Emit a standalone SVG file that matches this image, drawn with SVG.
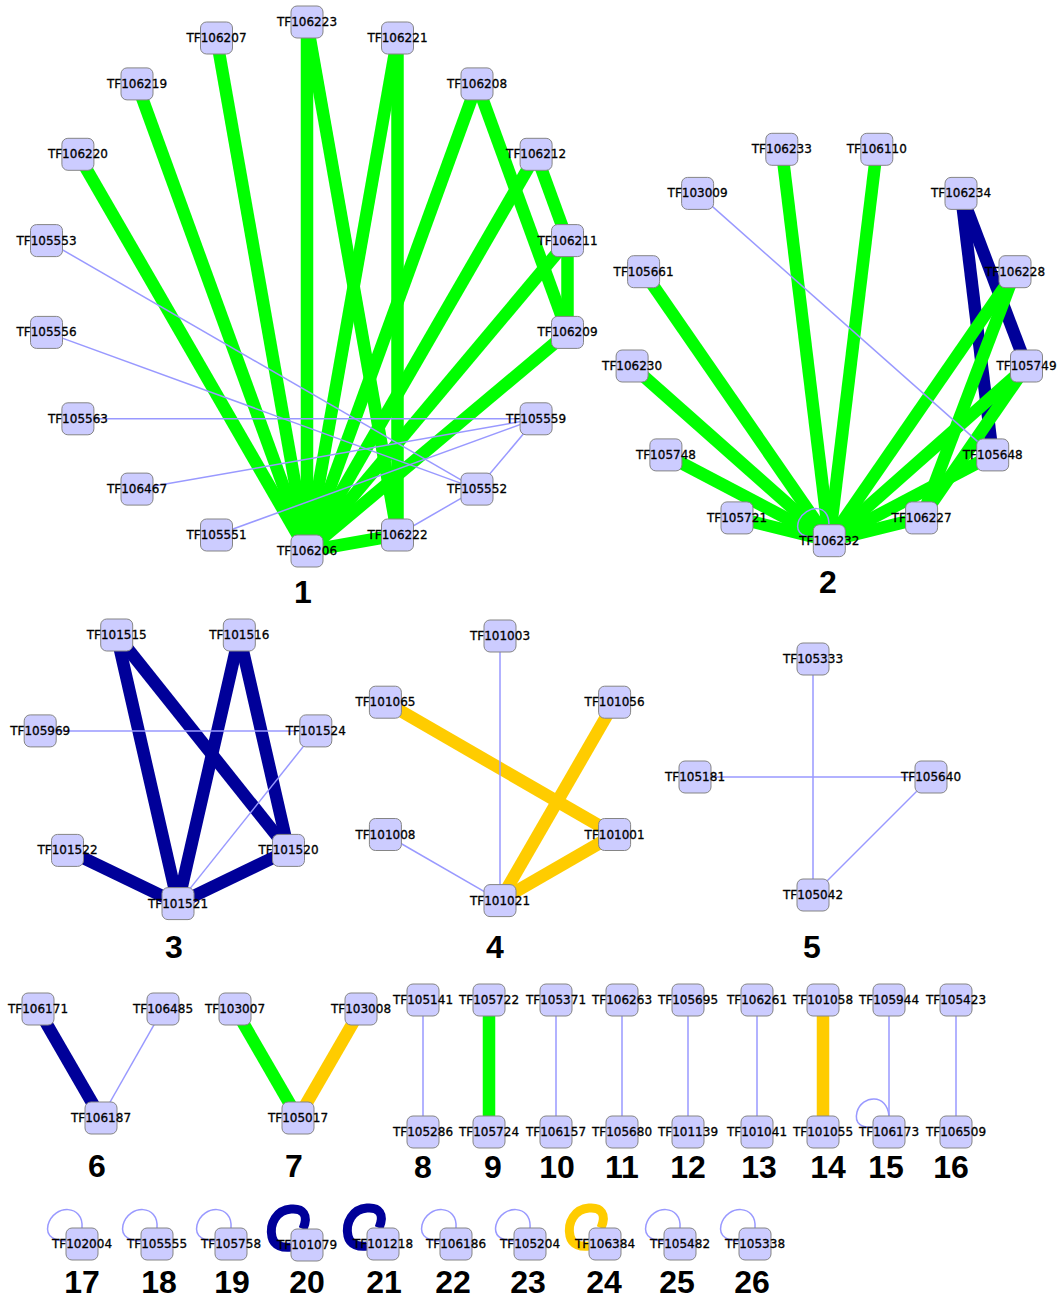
<svg xmlns="http://www.w3.org/2000/svg" xmlns:xlink="http://www.w3.org/1999/xlink" width="1059" height="1298" viewBox="0 0 1059 1298">
  <style>
    .bg { fill: #ffffff; }
    .e { fill: none; stroke-linecap: butt; }
    .g { stroke: #00ff00; stroke-width: 12.5; }
    .b { stroke: #000099; stroke-width: 12.5; }
    .y { stroke: #ffcc00; stroke-width: 12.5; }
    .t { stroke: #9999ff; stroke-width: 1.5; }
    .lt { stroke-width: 9; }
    .nodebox { fill: #ccccff; stroke: #858585; stroke-width: 1; }
    .node text { font-family: "DejaVu Sans", "Liberation Sans", sans-serif; font-size: 12px; fill: #000000; stroke: #000000; stroke-width: 0.3; text-anchor: middle; }
    .num { font-family: "Liberation Sans", Arial, sans-serif; font-weight: bold; font-size: 32px; fill: #000000; text-anchor: middle; }
  </style>
  <defs>
    <rect id="box" class="nodebox" x="-16" y="-16" width="32" height="32" rx="6" ry="6"/>
    <path id="loopThin" class="e t" d="M 0 -16 C 2 -40, -28 -40, -34 -19 C -37 -6, -25 -3, -16 -3"/>
    <path id="loopThickB" class="e b lt" d="M -4 -16 C 2 -30, -4 -37, -16 -36 C -30 -35, -38 -22, -35 -8 C -33 1, -24 3, -16 2"/>
    <path id="loopThickY" class="e y lt" d="M -4 -16 C 2 -30, -4 -37, -16 -36 C -30 -35, -38 -22, -35 -8 C -33 1, -24 3, -16 2"/>
  </defs>
  <rect class="bg" x="0" y="0" width="1059" height="1298"/>

  <g id="connectors">
    <!-- component 1: green hub edges -->
    <line class="e g" x1="77.9" y1="154.3" x2="307" y2="551"/>
    <line class="e g" x1="137" y1="83.9" x2="307" y2="551"/>
    <line class="e g" x1="216.5" y1="38" x2="307" y2="551"/>
    <line class="e g" x1="307" y1="22" x2="307" y2="551"/>
    <line class="e g" x1="307" y1="22" x2="397.5" y2="535"/>
    <line class="e g" x1="397.5" y1="38" x2="307" y2="551"/>
    <line class="e g" x1="397.5" y1="38" x2="397.5" y2="535"/>
    <line class="e g" x1="477" y1="83.9" x2="307" y2="551"/>
    <line class="e g" x1="477" y1="83.9" x2="567.5" y2="332.4"/>
    <line class="e g" x1="536.1" y1="154.3" x2="307" y2="551"/>
    <line class="e g" x1="536.1" y1="154.3" x2="567.5" y2="240.6"/>
    <line class="e g" x1="567.5" y1="240.6" x2="307" y2="551"/>
    <line class="e g" x1="567.5" y1="240.6" x2="567.5" y2="332.4"/>
    <line class="e g" x1="567.5" y1="332.4" x2="307" y2="551"/>
    <line class="e g" x1="397.5" y1="535" x2="307" y2="551"/>
    <!-- component 1: thin edges -->
    <line class="e t" x1="46.5" y1="240.6" x2="477" y2="489.1"/>
    <line class="e t" x1="46.5" y1="332.4" x2="477" y2="489.1"/>
    <line class="e t" x1="77.9" y1="418.8" x2="536.1" y2="418.8"/>
    <line class="e t" x1="137" y1="489.1" x2="536.1" y2="418.8"/>
    <line class="e t" x1="216.5" y1="535" x2="536.1" y2="418.8"/>
    <line class="e t" x1="536.1" y1="418.8" x2="477" y2="489.1"/>
    <line class="e t" x1="397.5" y1="535" x2="477" y2="489.1"/>

    <!-- component 2 -->
    <line class="e b" x1="961" y1="193.4" x2="1026.5" y2="366"/>
    <line class="e b" x1="961" y1="193.4" x2="992.7" y2="454.9"/>
    <line class="e g" x1="781.8" y1="149.3" x2="829.3" y2="540.7"/>
    <line class="e g" x1="876.8" y1="149.3" x2="829.3" y2="540.7"/>
    <line class="e g" x1="643.6" y1="271.7" x2="829.3" y2="540.7"/>
    <line class="e g" x1="632.1" y1="366" x2="829.3" y2="540.7"/>
    <line class="e g" x1="665.9" y1="454.9" x2="829.3" y2="540.7"/>
    <line class="e g" x1="737" y1="517.9" x2="829.3" y2="540.7"/>
    <line class="e g" x1="1015" y1="271.7" x2="829.3" y2="540.7"/>
    <line class="e g" x1="1015" y1="271.7" x2="921.6" y2="517.9"/>
    <line class="e g" x1="1026.5" y1="366" x2="829.3" y2="540.7"/>
    <line class="e g" x1="1026.5" y1="366" x2="921.6" y2="517.9"/>
    <line class="e g" x1="992.7" y1="454.9" x2="829.3" y2="540.7"/>
    <line class="e g" x1="921.6" y1="517.9" x2="829.3" y2="540.7"/>
    <line class="e t" x1="697.6" y1="193.4" x2="992.7" y2="454.9"/>
    <path class="e t" d="M 829 525 C 829 502, 806 506, 799 520 C 795 530, 800 537, 813 537"/>

    <!-- component 3 -->
    <line class="e b" x1="116.7" y1="635" x2="178" y2="903.6"/>
    <line class="e b" x1="116.7" y1="635" x2="288.5" y2="850.4"/>
    <line class="e b" x1="239.3" y1="635" x2="178" y2="903.6"/>
    <line class="e b" x1="239.3" y1="635" x2="288.5" y2="850.4"/>
    <line class="e b" x1="67.5" y1="850.4" x2="178" y2="903.6"/>
    <line class="e b" x1="288.5" y1="850.4" x2="178" y2="903.6"/>
    <line class="e t" x1="40.2" y1="730.9" x2="315.8" y2="730.9"/>
    <line class="e t" x1="315.8" y1="730.9" x2="178" y2="903.6"/>

    <!-- component 4 -->
    <line class="e y" x1="385.4" y1="702.2" x2="614.6" y2="834.5"/>
    <line class="e y" x1="614.6" y1="702.2" x2="500" y2="900.6"/>
    <line class="e y" x1="614.6" y1="834.5" x2="500" y2="900.6"/>
    <line class="e t" x1="500" y1="636" x2="500" y2="900.6"/>
    <line class="e t" x1="385.4" y1="834.5" x2="500" y2="900.6"/>

    <!-- component 5 -->
    <line class="e t" x1="813" y1="659" x2="813" y2="895"/>
    <line class="e t" x1="695" y1="777" x2="931" y2="777"/>
    <line class="e t" x1="931" y1="777" x2="813" y2="895"/>

    <!-- components 6 and 7 -->
    <line class="e b" x1="38" y1="1009" x2="101" y2="1118"/>
    <line class="e t" x1="163" y1="1009" x2="101" y2="1118"/>
    <line class="e g" x1="235" y1="1009" x2="298" y2="1118"/>
    <line class="e y" x1="361" y1="1009" x2="298" y2="1118"/>

    <!-- components 8 to 16 -->
    <line class="e t" x1="423" y1="1000" x2="423" y2="1132"/>
    <line class="e g" x1="489" y1="1000" x2="489" y2="1132"/>
    <line class="e t" x1="556" y1="1000" x2="556" y2="1132"/>
    <line class="e t" x1="622" y1="1000" x2="622" y2="1132"/>
    <line class="e t" x1="688" y1="1000" x2="688" y2="1132"/>
    <line class="e t" x1="757" y1="1000" x2="757" y2="1132"/>
    <line class="e y" x1="823" y1="1000" x2="823" y2="1132"/>
    <line class="e t" x1="889" y1="1000" x2="889" y2="1132"/>
    <path class="e t" d="M 889 1116 C 887 1093, 862 1095, 857 1112 C 854 1124, 862 1128, 873 1127"/>
    <line class="e t" x1="956" y1="1000" x2="956" y2="1132"/>

    <!-- components 17 to 26: self loops -->
    <use xlink:href="#loopThin" x="82" y="1244"/>
    <use xlink:href="#loopThin" x="157" y="1244"/>
    <use xlink:href="#loopThin" x="231" y="1244"/>
    <use xlink:href="#loopThickB" x="307" y="1245"/>
    <use xlink:href="#loopThickB" x="383" y="1244"/>
    <use xlink:href="#loopThin" x="456" y="1244"/>
    <use xlink:href="#loopThin" x="530" y="1244"/>
    <use xlink:href="#loopThickY" x="605" y="1244"/>
    <use xlink:href="#loopThin" x="680" y="1244"/>
    <use xlink:href="#loopThin" x="755" y="1244"/>
  </g>

  <g id="nodes">
    <!-- component 1 -->
    <g id="TF106223" class="node" transform="translate(307,22)"><use xlink:href="#box"/><text y="4">TF106223</text></g>
    <g id="TF106221" class="node" transform="translate(397.5,38)"><use xlink:href="#box"/><text y="4">TF106221</text></g>
    <g id="TF106208" class="node" transform="translate(477,83.9)"><use xlink:href="#box"/><text y="4">TF106208</text></g>
    <g id="TF106212" class="node" transform="translate(536.1,154.3)"><use xlink:href="#box"/><text y="4">TF106212</text></g>
    <g id="TF106211" class="node" transform="translate(567.5,240.6)"><use xlink:href="#box"/><text y="4">TF106211</text></g>
    <g id="TF106209" class="node" transform="translate(567.5,332.4)"><use xlink:href="#box"/><text y="4">TF106209</text></g>
    <g id="TF105559" class="node" transform="translate(536.1,418.8)"><use xlink:href="#box"/><text y="4">TF105559</text></g>
    <g id="TF105552" class="node" transform="translate(477,489.1)"><use xlink:href="#box"/><text y="4">TF105552</text></g>
    <g id="TF106222" class="node" transform="translate(397.5,535)"><use xlink:href="#box"/><text y="4">TF106222</text></g>
    <g id="TF106206" class="node" transform="translate(307,551)"><use xlink:href="#box"/><text y="4">TF106206</text></g>
    <g id="TF105551" class="node" transform="translate(216.5,535)"><use xlink:href="#box"/><text y="4">TF105551</text></g>
    <g id="TF106467" class="node" transform="translate(137,489.1)"><use xlink:href="#box"/><text y="4">TF106467</text></g>
    <g id="TF105563" class="node" transform="translate(77.9,418.8)"><use xlink:href="#box"/><text y="4">TF105563</text></g>
    <g id="TF105556" class="node" transform="translate(46.5,332.4)"><use xlink:href="#box"/><text y="4">TF105556</text></g>
    <g id="TF105553" class="node" transform="translate(46.5,240.6)"><use xlink:href="#box"/><text y="4">TF105553</text></g>
    <g id="TF106220" class="node" transform="translate(77.9,154.3)"><use xlink:href="#box"/><text y="4">TF106220</text></g>
    <g id="TF106219" class="node" transform="translate(137,83.9)"><use xlink:href="#box"/><text y="4">TF106219</text></g>
    <g id="TF106207" class="node" transform="translate(216.5,38)"><use xlink:href="#box"/><text y="4">TF106207</text></g>

    <!-- component 2 -->
    <g id="TF106232" class="node" transform="translate(829.3,540.7)"><use xlink:href="#box"/><text y="4">TF106232</text></g>
    <g id="TF105721" class="node" transform="translate(737,517.9)"><use xlink:href="#box"/><text y="4">TF105721</text></g>
    <g id="TF105748" class="node" transform="translate(665.9,454.9)"><use xlink:href="#box"/><text y="4">TF105748</text></g>
    <g id="TF106230" class="node" transform="translate(632.1,366)"><use xlink:href="#box"/><text y="4">TF106230</text></g>
    <g id="TF105661" class="node" transform="translate(643.6,271.7)"><use xlink:href="#box"/><text y="4">TF105661</text></g>
    <g id="TF103009" class="node" transform="translate(697.6,193.4)"><use xlink:href="#box"/><text y="4">TF103009</text></g>
    <g id="TF106233" class="node" transform="translate(781.8,149.3)"><use xlink:href="#box"/><text y="4">TF106233</text></g>
    <g id="TF106110" class="node" transform="translate(876.8,149.3)"><use xlink:href="#box"/><text y="4">TF106110</text></g>
    <g id="TF106234" class="node" transform="translate(961,193.4)"><use xlink:href="#box"/><text y="4">TF106234</text></g>
    <g id="TF106228" class="node" transform="translate(1015,271.7)"><use xlink:href="#box"/><text y="4">TF106228</text></g>
    <g id="TF105749" class="node" transform="translate(1026.5,366)"><use xlink:href="#box"/><text y="4">TF105749</text></g>
    <g id="TF105648" class="node" transform="translate(992.7,454.9)"><use xlink:href="#box"/><text y="4">TF105648</text></g>
    <g id="TF106227" class="node" transform="translate(921.6,517.9)"><use xlink:href="#box"/><text y="4">TF106227</text></g>

    <!-- component 3 -->
    <g id="TF101521" class="node" transform="translate(178,903.6)"><use xlink:href="#box"/><text y="4">TF101521</text></g>
    <g id="TF101522" class="node" transform="translate(67.5,850.4)"><use xlink:href="#box"/><text y="4">TF101522</text></g>
    <g id="TF105969" class="node" transform="translate(40.2,730.9)"><use xlink:href="#box"/><text y="4">TF105969</text></g>
    <g id="TF101515" class="node" transform="translate(116.7,635)"><use xlink:href="#box"/><text y="4">TF101515</text></g>
    <g id="TF101516" class="node" transform="translate(239.3,635)"><use xlink:href="#box"/><text y="4">TF101516</text></g>
    <g id="TF101524" class="node" transform="translate(315.8,730.9)"><use xlink:href="#box"/><text y="4">TF101524</text></g>
    <g id="TF101520" class="node" transform="translate(288.5,850.4)"><use xlink:href="#box"/><text y="4">TF101520</text></g>

    <!-- component 4 -->
    <g id="TF101021" class="node" transform="translate(500,900.6)"><use xlink:href="#box"/><text y="4">TF101021</text></g>
    <g id="TF101008" class="node" transform="translate(385.4,834.5)"><use xlink:href="#box"/><text y="4">TF101008</text></g>
    <g id="TF101065" class="node" transform="translate(385.4,702.2)"><use xlink:href="#box"/><text y="4">TF101065</text></g>
    <g id="TF101003" class="node" transform="translate(500,636)"><use xlink:href="#box"/><text y="4">TF101003</text></g>
    <g id="TF101056" class="node" transform="translate(614.6,702.2)"><use xlink:href="#box"/><text y="4">TF101056</text></g>
    <g id="TF101001" class="node" transform="translate(614.6,834.5)"><use xlink:href="#box"/><text y="4">TF101001</text></g>

    <!-- component 5 -->
    <g id="TF105333" class="node" transform="translate(813,659)"><use xlink:href="#box"/><text y="4">TF105333</text></g>
    <g id="TF105181" class="node" transform="translate(695,777)"><use xlink:href="#box"/><text y="4">TF105181</text></g>
    <g id="TF105640" class="node" transform="translate(931,777)"><use xlink:href="#box"/><text y="4">TF105640</text></g>
    <g id="TF105042" class="node" transform="translate(813,895)"><use xlink:href="#box"/><text y="4">TF105042</text></g>

    <!-- components 6 and 7 -->
    <g id="TF106171" class="node" transform="translate(38,1009)"><use xlink:href="#box"/><text y="4">TF106171</text></g>
    <g id="TF106485" class="node" transform="translate(163,1009)"><use xlink:href="#box"/><text y="4">TF106485</text></g>
    <g id="TF106187" class="node" transform="translate(101,1118)"><use xlink:href="#box"/><text y="4">TF106187</text></g>
    <g id="TF103007" class="node" transform="translate(235,1009)"><use xlink:href="#box"/><text y="4">TF103007</text></g>
    <g id="TF103008" class="node" transform="translate(361,1009)"><use xlink:href="#box"/><text y="4">TF103008</text></g>
    <g id="TF105017" class="node" transform="translate(298,1118)"><use xlink:href="#box"/><text y="4">TF105017</text></g>

    <!-- components 8 to 16 -->
    <g id="TF105141" class="node" transform="translate(423,1000)"><use xlink:href="#box"/><text y="4">TF105141</text></g>
    <g id="TF105286" class="node" transform="translate(423,1132)"><use xlink:href="#box"/><text y="4">TF105286</text></g>
    <g id="TF105722" class="node" transform="translate(489,1000)"><use xlink:href="#box"/><text y="4">TF105722</text></g>
    <g id="TF105724" class="node" transform="translate(489,1132)"><use xlink:href="#box"/><text y="4">TF105724</text></g>
    <g id="TF105371" class="node" transform="translate(556,1000)"><use xlink:href="#box"/><text y="4">TF105371</text></g>
    <g id="TF106157" class="node" transform="translate(556,1132)"><use xlink:href="#box"/><text y="4">TF106157</text></g>
    <g id="TF106263" class="node" transform="translate(622,1000)"><use xlink:href="#box"/><text y="4">TF106263</text></g>
    <g id="TF105680" class="node" transform="translate(622,1132)"><use xlink:href="#box"/><text y="4">TF105680</text></g>
    <g id="TF105695" class="node" transform="translate(688,1000)"><use xlink:href="#box"/><text y="4">TF105695</text></g>
    <g id="TF101139" class="node" transform="translate(688,1132)"><use xlink:href="#box"/><text y="4">TF101139</text></g>
    <g id="TF106261" class="node" transform="translate(757,1000)"><use xlink:href="#box"/><text y="4">TF106261</text></g>
    <g id="TF101041" class="node" transform="translate(757,1132)"><use xlink:href="#box"/><text y="4">TF101041</text></g>
    <g id="TF101058" class="node" transform="translate(823,1000)"><use xlink:href="#box"/><text y="4">TF101058</text></g>
    <g id="TF101055" class="node" transform="translate(823,1132)"><use xlink:href="#box"/><text y="4">TF101055</text></g>
    <g id="TF105944" class="node" transform="translate(889,1000)"><use xlink:href="#box"/><text y="4">TF105944</text></g>
    <g id="TF106173" class="node" transform="translate(889,1132)"><use xlink:href="#box"/><text y="4">TF106173</text></g>
    <g id="TF105423" class="node" transform="translate(956,1000)"><use xlink:href="#box"/><text y="4">TF105423</text></g>
    <g id="TF106509" class="node" transform="translate(956,1132)"><use xlink:href="#box"/><text y="4">TF106509</text></g>

    <!-- components 17 to 26 -->
    <g id="TF102004" class="node" transform="translate(82,1244)"><use xlink:href="#box"/><text y="4">TF102004</text></g>
    <g id="TF105555" class="node" transform="translate(157,1244)"><use xlink:href="#box"/><text y="4">TF105555</text></g>
    <g id="TF105758" class="node" transform="translate(231,1244)"><use xlink:href="#box"/><text y="4">TF105758</text></g>
    <g id="TF101079" class="node" transform="translate(307,1245)"><use xlink:href="#box"/><text y="4">TF101079</text></g>
    <g id="TF101218" class="node" transform="translate(383,1244)"><use xlink:href="#box"/><text y="4">TF101218</text></g>
    <g id="TF106186" class="node" transform="translate(456,1244)"><use xlink:href="#box"/><text y="4">TF106186</text></g>
    <g id="TF105204" class="node" transform="translate(530,1244)"><use xlink:href="#box"/><text y="4">TF105204</text></g>
    <g id="TF106384" class="node" transform="translate(605,1244)"><use xlink:href="#box"/><text y="4">TF106384</text></g>
    <g id="TF105482" class="node" transform="translate(680,1244)"><use xlink:href="#box"/><text y="4">TF105482</text></g>
    <g id="TF105338" class="node" transform="translate(755,1244)"><use xlink:href="#box"/><text y="4">TF105338</text></g>
  </g>

  <g id="component-numbers">
    <text class="num" x="303" y="603">1</text>
    <text class="num" x="828" y="593">2</text>
    <text class="num" x="174" y="958">3</text>
    <text class="num" x="495" y="958">4</text>
    <text class="num" x="812" y="958">5</text>
    <text class="num" x="97" y="1177">6</text>
    <text class="num" x="294" y="1177">7</text>
    <text class="num" x="423" y="1178">8</text>
    <text class="num" x="493" y="1178">9</text>
    <text class="num" x="557" y="1178">10</text>
    <text class="num" x="622" y="1178">11</text>
    <text class="num" x="688" y="1178">12</text>
    <text class="num" x="759" y="1178">13</text>
    <text class="num" x="828" y="1178">14</text>
    <text class="num" x="886" y="1178">15</text>
    <text class="num" x="951" y="1178">16</text>
    <text class="num" x="82" y="1293">17</text>
    <text class="num" x="159" y="1293">18</text>
    <text class="num" x="232" y="1293">19</text>
    <text class="num" x="307" y="1293">20</text>
    <text class="num" x="384" y="1293">21</text>
    <text class="num" x="453" y="1293">22</text>
    <text class="num" x="528" y="1293">23</text>
    <text class="num" x="604" y="1293">24</text>
    <text class="num" x="677" y="1293">25</text>
    <text class="num" x="752" y="1293">26</text>
  </g>
</svg>
